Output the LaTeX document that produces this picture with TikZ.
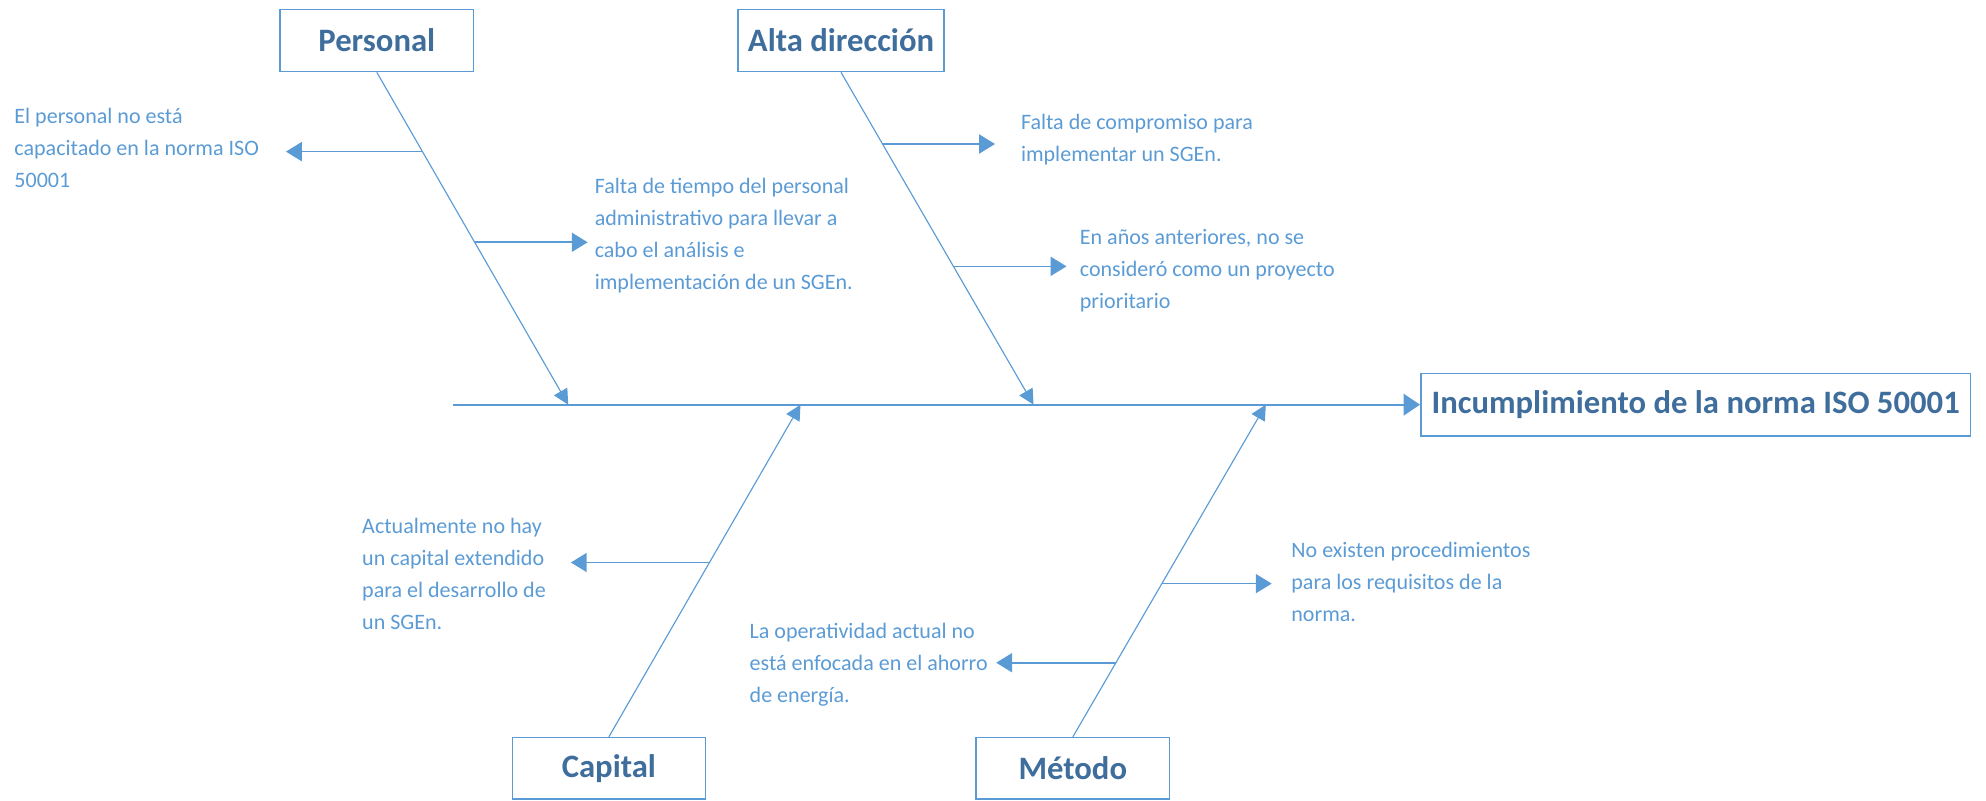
\documentclass[tikz,border=0pt]{standalone}
\usepackage{fontspec}
\setmainfont{Carlito}
\usetikzlibrary{arrows.meta,calc}
\definecolor{lineblue}{HTML}{5B9BD5}
\definecolor{txtblue}{HTML}{5B9BD5}
\definecolor{titleblue}{HTML}{3F6E9C}
\begin{document}
\begin{tikzpicture}[x=1pt,y=-1pt,
  catbox/.style={draw=lineblue, line width=1.2pt, inner sep=0pt, minimum height=49pt, font=\fontsize{25.8}{31}\selectfont\bfseries, text=titleblue},
  causetext/.style={anchor=west, align=left, inner sep=0pt, text=txtblue, font=\fontsize{17.4}{25.3}\selectfont},
  bone/.style={draw=lineblue, line width=0.9pt, -{Triangle[length=12pt,width=12pt]}},
  subarrow/.style={draw=lineblue, line width=1.3pt, -{Triangle[length=12.5pt,width=15pt]}},
  spineline/.style={draw=lineblue, line width=1.8pt, -{Triangle[length=13pt,width=17pt]}}]
\useasboundingbox (0,0) rectangle (1568,632.4);

% boxes
\node[catbox, minimum width=153pt] (personal) at (297.5,32) {Personal};
\node[catbox, minimum width=162.7pt] (alta) at (664,32) {Alta dirección};
\node[catbox, minimum width=152.3pt, minimum height=48.6pt] (capital) at (480.7,606.7) {Capital};
\node[catbox, minimum width=152.7pt, minimum height=48.6pt] (metodo) at (847,606.7) {Método};
\node[catbox, minimum width=434pt, minimum height=49.4pt] (effect) at (1338.75,319.5) {Incumplimiento de la norma ISO 50001};

% spine
\coordinate (spinestart) at (357.7,319.5);
\draw[spineline] (spinestart) -- (effect.west);

% bone tips on spine
\coordinate (ptip) at (448.6,319.5);
\coordinate (atip) at (816,319.5);
\coordinate (ctip) at (632,319.5);
\coordinate (mtip) at (999.4,319.5);

\draw[bone] (personal.south) -- (ptip);
\draw[bone] (alta.south) -- (atip);
\draw[bone] (capital.north) -- (ctip);
\draw[bone] (metodo.north) -- (mtip);

% sub-cause arrows
\coordinate (p1) at ($(personal.south)!0.2386!(ptip)$);
\coordinate (p1e) at ($(p1)+(-107.8,0)$);
\coordinate (p2) at ($(personal.south)!0.5114!(ptip)$);
\coordinate (p2e) at ($(p2)+(89.2,0)$);
\coordinate (a1) at ($(alta.south)!0.2157!(atip)$);
\coordinate (a1e) at ($(a1)+(88.8,0)$);
\coordinate (a2) at ($(alta.south)!0.5838!(atip)$);
\coordinate (a2e) at ($(a2)+(89.3,0)$);
\coordinate (c1) at ($(capital.north)!0.525!(ctip)$);
\coordinate (c1e) at ($(c1)+(-109.4,0)$);
\coordinate (m1) at ($(metodo.north)!0.4614!(mtip)$);
\coordinate (m1e) at ($(m1)+(86.7,0)$);
\coordinate (m2) at ($(metodo.north)!0.2233!(mtip)$);
\coordinate (m2e) at ($(m2)+(-94.5,0)$);

\draw[subarrow] (p1) -- (p1e);
\draw[subarrow] (p2) -- (p2e);
\draw[subarrow] (a1) -- (a1e);
\draw[subarrow] (a2) -- (a2e);
\draw[subarrow] (c1) -- (c1e);
\draw[subarrow] (m1) -- (m1e);
\draw[subarrow] (m2) -- (m2e);

% texts
\node[causetext] (t1) at (11.2,117) {El personal no está\\capacitado en la norma ISO\\50001};
\node[causetext] (t2) at (469.4,185.7) {Falta de tiempo del personal\\administrativo para llevar a\\cabo el análisis e\\implementación de un SGEn.};
\node[causetext] (t3) at (805.9,109.9) {Falta de compromiso para\\implementar un SGEn.};
\node[causetext] (t4) at (852.4,213.6) {En años anteriores, no se\\consideró como un proyecto\\prioritario};
\node[causetext] (t5) at (285.8,453.4) {Actualmente no hay\\un capital extendido\\para el desarrollo de\\un SGEn.};
\node[causetext] (t6) at (591.7,524.5) {La operatividad actual no\\está enfocada en el ahorro\\de energía.};
\node[causetext] (t7) at (1019.4,459.8) {No existen procedimientos\\para los requisitos de la\\norma.};
\end{tikzpicture}
\end{document}
